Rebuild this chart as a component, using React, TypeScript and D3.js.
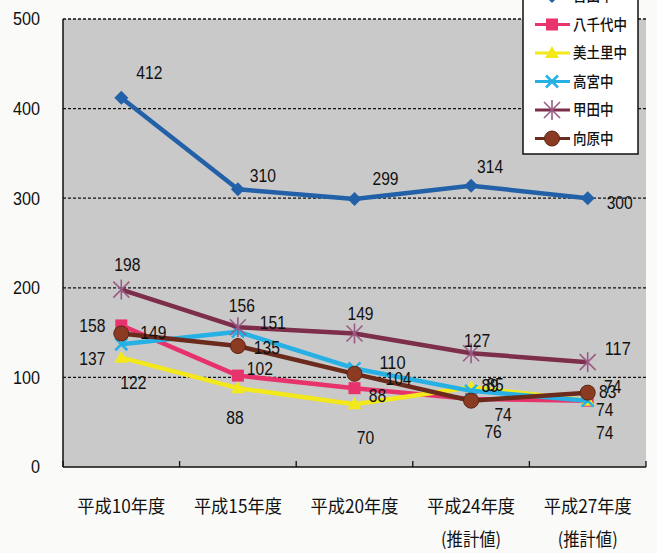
import React from "react";
import * as d3 from "d3";

// Category axis (two-line labels for the projected years)
const categories = ["平成10年度", "平成15年度", "平成20年度", "平成24年度", "平成27年度"];
const categoryNotes = ["", "", "", "(推計値)", "(推計値)"];
const yTicks = [0, 100, 200, 300, 400, 500];

// Enrolment per school
const yoshida = [412, 310, 299, 314, 300];
const yachiyo = [158, 102, 88, 76, 74];
const midori = [122, 88, 70, 89, 74];
const takamiya = [137, 151, 110, 85, 74];
const koda = [198, 156, 149, 127, 117];
const mukaihara = [149, 135, 104, 74, 83];

// Data-label offsets from each point [dx, dy]
const yoshidaLabelOffsets = [[28, -25], [25, -14], [31, -21], [19, -19], [32, 4]];
const yachiyoLabelOffsets = [[-29, 0], [22, -7], [23, 7], [22, 33], [25, -14]];
const midoriLabelOffsets = [[12, 25], [-3, 29], [11, 33], [19, -2], [17, 32]];
const takamiyaLabelOffsets = [[-29, 14], [35, -9], [38, -6], [24, -6], [17, 9]];
const kodaLabelOffsets = [[6, -25], [4, -22], [6, -20], [6, -13], [30, -14]];
const mukaiharaLabelOffsets = [[32, -1], [29, 1], [44, 5], [32, 14], [20, -1]];

type Marker = "diamond" | "square" | "triangle" | "cross" | "star" | "circle";

const series = [
  { name: "吉田中", values: yoshida, offsets: yoshidaLabelOffsets, color: "#2360a8", markerColor: "#2360a8", marker: "diamond" as Marker },
  { name: "八千代中", values: yachiyo, offsets: yachiyoLabelOffsets, color: "#e8336c", markerColor: "#e8336c", marker: "square" as Marker },
  { name: "美土里中", values: midori, offsets: midoriLabelOffsets, color: "#f3e81a", markerColor: "#f3e81a", marker: "triangle" as Marker },
  { name: "高宮中", values: takamiya, offsets: takamiyaLabelOffsets, color: "#26b0e4", markerColor: "#26b0e4", marker: "cross" as Marker },
  { name: "甲田中", values: koda, offsets: kodaLabelOffsets, color: "#7b2d4b", markerColor: "#9b5a86", marker: "star" as Marker },
  { name: "向原中", values: mukaihara, offsets: mukaiharaLabelOffsets, color: "#6a2c1e", markerColor: "#8a3a22", marker: "circle" as Marker },
];

const W = 657;
const H = 553;
const plot = { left: 63, right: 646, top: 19, bottom: 467 };

const numFont = "'Liberation Sans', Arial, sans-serif";
const jpFont = "'Noto Sans CJK JP', sans-serif";
const digitWidth = 8.7;

function MarkerShape({ type, x, y, color }: { type: Marker; x: number; y: number; color: string }) {
  switch (type) {
    case "diamond":
      return <path d={`M${x},${y - 7} L${x + 7},${y} L${x},${y + 7} L${x - 7},${y} Z`} fill={color} />;
    case "square":
      return <rect x={x - 6} y={y - 6} width={12} height={12} fill={color} />;
    case "triangle":
      return <path d={`M${x},${y - 7} L${x + 7},${y + 5} L${x - 7},${y + 5} Z`} fill={color} />;
    case "cross":
      return (
        <g stroke={color} strokeWidth={2.5}>
          <line x1={x - 6} y1={y - 6} x2={x + 6} y2={y + 6} />
          <line x1={x - 6} y1={y + 6} x2={x + 6} y2={y - 6} />
        </g>
      );
    case "star":
      return (
        <g stroke={color} strokeWidth={1.6}>
          <line x1={x - 8} y1={y - 8} x2={x + 8} y2={y + 8} />
          <line x1={x - 8} y1={y + 8} x2={x + 8} y2={y - 8} />
          <line x1={x} y1={y - 10} x2={x} y2={y + 10} />
        </g>
      );
    case "circle":
      return <circle cx={x} cy={y} r={7.5} fill={color} stroke="#5a2414" strokeWidth={1} />;
  }
  return null;
}

export default function App() {
  const x = d3.scaleBand<string>().domain(categories).range([plot.left, plot.right]);
  const y = d3.scaleLinear().domain([0, 500]).range([plot.bottom, plot.top]);
  const cx = (c: string) => (x(c) ?? 0) + x.bandwidth() / 2;

  const line = d3
    .line<number>()
    .x((_, i) => cx(categories[i]))
    .y((v) => y(v));

  const boundaries = categories.map((c) => x(c) ?? 0).concat([plot.right]);

  const legendX = 523;
  const legendRowY = (i: number) => -4 + i * 28.5;

  return (
    <div style={{ position: "fixed", left: 0, top: 0, width: W, height: H, background: "#fafaf8" }}>
      <svg width={W} height={H} viewBox={`0 0 ${W} ${H}`}>
        <defs>
          <filter id="soft" x="-5%" y="-5%" width="110%" height="110%">
            <feGaussianBlur stdDeviation="0.5" />
          </filter>
        </defs>
        <rect x={0} y={0} width={W} height={H} fill="#fafaf8" />
        {/* plot background */}
        <rect x={plot.left} y={plot.top} width={plot.right - plot.left} height={plot.bottom - plot.top} fill="#c9c9c9" />

        {/* dashed gridlines */}
        {yTicks.filter((t) => t > 0).map((t) => (
          <line key={t} x1={plot.left} x2={plot.right} y1={y(t)} y2={y(t)} stroke="#111" strokeWidth={1.3} strokeDasharray="3 2" />
        ))}

        {/* axes */}
        <line x1={plot.left} x2={plot.left} y1={plot.top} y2={plot.bottom} stroke="#111" strokeWidth={1.5} />
        <line x1={plot.left} x2={plot.right} y1={plot.bottom} y2={plot.bottom} stroke="#111" strokeWidth={1.5} />
        {boundaries.map((b, i) => (
          <line key={i} x1={b} x2={b} y1={plot.bottom} y2={plot.bottom - 6} stroke="#111" strokeWidth={1.3} />
        ))}

        {/* y tick labels */}
        {yTicks.map((t) => (
          <text key={t} x={40} y={y(t)} dy="0.36em" textAnchor="end" fontFamily={numFont} fontSize={18} fill="#111"
            textLength={String(t).length * 9} lengthAdjust="spacingAndGlyphs">
            {t}
          </text>
        ))}

        {/* category labels */}
        {categories.map((c, i) => (
          <g key={c}>
            <text x={cx(c)} y={507} dy="0.36em" textAnchor="middle" fontFamily={jpFont} fontSize={18} fill="#111"
              textLength={88} lengthAdjust="spacingAndGlyphs">
              {c}
            </text>
            {categoryNotes[i] && (
              <text x={cx(c)} y={540} dy="0.36em" textAnchor="middle" fontFamily={jpFont} fontSize={18} fill="#111"
                textLength={60} lengthAdjust="spacingAndGlyphs">
                {categoryNotes[i]}
              </text>
            )}
          </g>
        ))}

        {/* series lines and markers */}
        <g filter="url(#soft)">
          {series.map((s) => (
            <g key={s.name}>
              <path d={line(s.values) ?? ""} fill="none" stroke={s.color} strokeWidth={4.5} strokeLinejoin="round" />
              {s.values.map((v, i) => (
                <MarkerShape key={i} type={s.marker} x={cx(categories[i])} y={y(v)} color={s.markerColor} />
              ))}
            </g>
          ))}
        </g>

        {/* data labels */}
        {series.map((s) =>
          s.values.map((v, i) => (
            <text key={s.name + i} x={cx(categories[i]) + s.offsets[i][0]} y={y(v) + s.offsets[i][1]} dy="0.36em"
              textAnchor="middle" fontFamily={numFont} fontSize={18} fill="#111"
              textLength={String(v).length * digitWidth} lengthAdjust="spacingAndGlyphs">
              {v}
            </text>
          ))
        )}

        {/* legend */}
        <rect x={legendX} y={-30} width={115} height={184} fill="#ffffff" stroke="#111" strokeWidth={1.5} />
        {series.map((s, i) => {
          const ly = legendRowY(i);
          return (
            <g key={s.name}>
              <line x1={legendX + 12} x2={legendX + 47} y1={ly} y2={ly} stroke={s.color} strokeWidth={3} />
              <MarkerShape type={s.marker} x={legendX + 29} y={ly} color={s.markerColor} />
              <text x={legendX + 50} y={ly} dy="0.36em" fontFamily={jpFont} fontSize={15} fontWeight={500} fill="#111"
                textLength={s.name.length * 13.5} lengthAdjust="spacingAndGlyphs">
                {s.name}
              </text>
            </g>
          );
        })}
      </svg>
    </div>
  );
}
